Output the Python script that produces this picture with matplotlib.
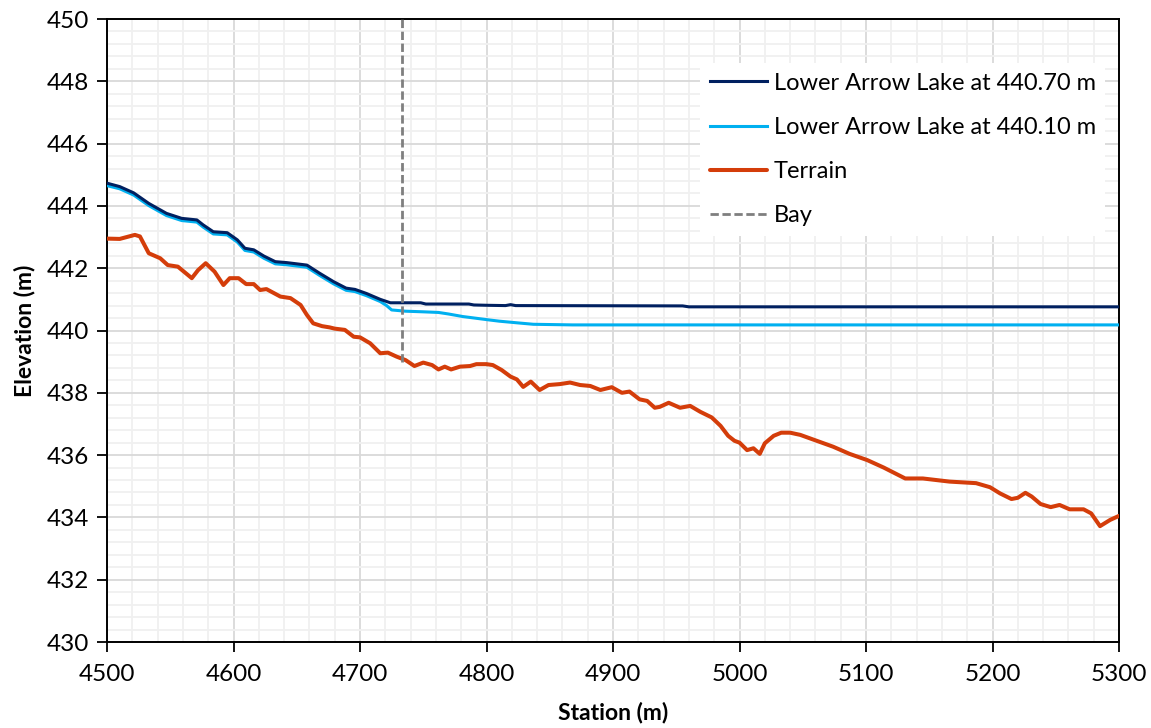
import matplotlib
matplotlib.use("Agg")
import matplotlib.pyplot as plt
from matplotlib.ticker import MultipleLocator

plt.rcParams['font.family'] = ['Lato', 'DejaVu Sans']

# Ground profile along the channel
terrain_station = [4500, 4510, 4522, 4526, 4533, 4542, 4548, 4556, 4567, 4572,
                   4578, 4585, 4592, 4597, 4604, 4610, 4616, 4621, 4626, 4637,
                   4645, 4653, 4658, 4663, 4670, 4676, 4680, 4688, 4695, 4700,
                   4708, 4716, 4722, 4729, 4736, 4743, 4750, 4757, 4762, 4767,
                   4772, 4779, 4787, 4792, 4800, 4805, 4812, 4819, 4824, 4829,
                   4835, 4842, 4849, 4858, 4866, 4874, 4882, 4890, 4899, 4907,
                   4913, 4921, 4927, 4933, 4937, 4944, 4953, 4961, 4969, 4978,
                   4985, 4991, 4996, 5000, 5006, 5011, 5016, 5020, 5027, 5033,
                   5040, 5048, 5061, 5074, 5087, 5101, 5114, 5131, 5145, 5166,
                   5187, 5198, 5206, 5215, 5220, 5226, 5231, 5238, 5246, 5253,
                   5261, 5272, 5278, 5285, 5293, 5300]
terrain_elev = [442.95, 442.94, 443.07, 443.02, 442.48, 442.32, 442.10, 442.05, 441.68, 441.94,
                442.16, 441.89, 441.46, 441.68, 441.68, 441.49, 441.49, 441.30, 441.33, 441.09,
                441.04, 440.82, 440.50, 440.23, 440.14, 440.10, 440.06, 440.02, 439.80, 439.78,
                439.59, 439.27, 439.29, 439.16, 439.05, 438.86, 438.97, 438.89, 438.75, 438.84,
                438.75, 438.84, 438.86, 438.92, 438.92, 438.89, 438.73, 438.52, 438.43, 438.19,
                438.36, 438.09, 438.25, 438.28, 438.33, 438.25, 438.22, 438.09, 438.18, 438.00,
                438.04, 437.79, 437.74, 437.52, 437.55, 437.68, 437.52, 437.58, 437.39, 437.21,
                436.94, 436.62, 436.46, 436.40, 436.16, 436.22, 436.04, 436.38, 436.62, 436.72,
                436.72, 436.65, 436.46, 436.27, 436.04, 435.84, 435.60, 435.25, 435.25, 435.15,
                435.10, 434.97, 434.77, 434.59, 434.63, 434.79, 434.67, 434.43, 434.33, 434.40,
                434.26, 434.26, 434.13, 433.72, 433.92, 434.05]

# Water surface with the lake at 440.70 m
high_station = [4500, 4510, 4521, 4533, 4547, 4559, 4571, 4576, 4584, 4595,
                4603, 4609, 4616, 4624, 4633, 4642, 4658, 4668, 4679, 4689,
                4696, 4705, 4716, 4724, 4748, 4752, 4786, 4790, 4800, 4815,
                4819, 4823, 4955, 4960, 5300]
high_elev = [444.73, 444.62, 444.42, 444.08, 443.76, 443.60, 443.55, 443.39, 443.17, 443.14,
             442.91, 442.64, 442.59, 442.39, 442.21, 442.18, 442.10, 441.84, 441.57, 441.36,
             441.32, 441.19, 441.00, 440.89, 440.89, 440.85, 440.85, 440.82, 440.81, 440.80,
             440.83, 440.80, 440.79, 440.76, 440.76]

# Water surface with the lake at 440.10 m
low_station = [4500, 4510, 4521, 4533, 4547, 4559, 4571, 4576, 4584, 4595,
               4603, 4609, 4616, 4624, 4633, 4642, 4658, 4668, 4679, 4689,
               4696, 4705, 4716, 4721, 4725, 4736, 4750, 4762, 4770, 4781,
               4800, 4810, 4826, 4837, 4868, 5300]
low_elev = [444.65, 444.55, 444.35, 444.01, 443.69, 443.53, 443.48, 443.32, 443.10, 443.07,
            442.84, 442.57, 442.52, 442.32, 442.14, 442.11, 442.03, 441.77, 441.50, 441.29,
            441.25, 441.12, 440.93, 440.80, 440.66, 440.62, 440.60, 440.58, 440.53, 440.45,
            440.35, 440.30, 440.24, 440.20, 440.18, 440.18]

bay_station = 4733
bay_elev = [439.0, 450.0]

x_ticks = [4500, 4600, 4700, 4800, 4900, 5000, 5100, 5200, 5300]
y_ticks = [430, 432, 434, 436, 438, 440, 442, 444, 446, 448, 450]

fig = plt.figure(figsize=(11.51, 7.28), dpi=100)
ax = fig.add_axes([0.093, 0.1181, 0.8792, 0.8558])

ax.plot(terrain_station, terrain_elev, color='#D43D0A', lw=2.9, label='Terrain', zorder=3,
        solid_joinstyle='round', solid_capstyle='round')
ax.plot(low_station, low_elev, color='#00B0F0', lw=2.2, label='Lower Arrow Lake at 440.10 m',
        zorder=4)
ax.plot(high_station, high_elev, color='#002060', lw=2.2, label='Lower Arrow Lake at 440.70 m',
        zorder=5)
ax.plot([bay_station, bay_station], bay_elev, color='#7F7F7F', lw=2.0, ls=(0, (3.0, 1.3)),
        label='Bay', zorder=6)

ax.set_xlim(4500, 5300)
ax.set_ylim(430, 450)
ax.set_xticks(x_ticks)
ax.set_yticks(y_ticks)
ax.xaxis.set_minor_locator(MultipleLocator(20))
ax.yaxis.set_minor_locator(MultipleLocator(0.4))
ax.grid(which='major', color='#D9D9D9', lw=1.3, zorder=0)
ax.grid(which='minor', color='#F0F0F0', lw=1.3, zorder=0)
ax.set_axisbelow(True)

ax.tick_params(which='major', direction='out', length=7, width=1.3, labelsize=17.5,
               colors='black', pad=6)
ax.tick_params(which='minor', length=0)
ax.tick_params(axis='x', pad=9)
for s in ax.spines.values():
    s.set_color('black')
    s.set_linewidth(1.4)

ax.set_xlabel('Station (m)', fontsize=16.5, fontweight='bold', labelpad=12)
ax.set_ylabel('Elevation (m)', fontsize=16.5, fontweight='bold', labelpad=8)

handles, labels = ax.get_legend_handles_labels()
order = [2, 1, 0, 3]
leg = ax.legend([handles[i] for i in order], [labels[i] for i in order],
                loc='upper right', bbox_to_anchor=(0.998, 0.948), fontsize=17,
                frameon=True, fancybox=False, framealpha=1, facecolor='white',
                edgecolor='none', handlelength=2.4, handletextpad=0.3,
                labelspacing=0.98, borderpad=0.4)
leg.set_zorder(10)

fig.savefig('out.png', dpi=100)
